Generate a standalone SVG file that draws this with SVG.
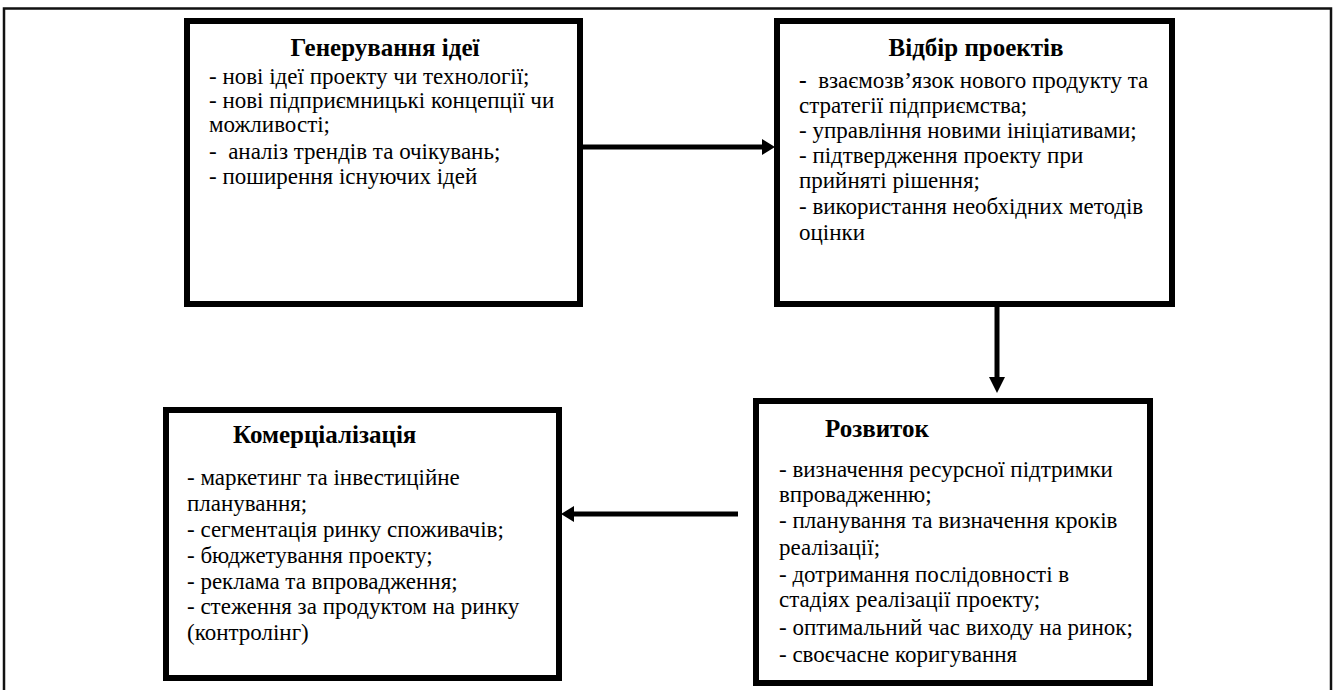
<svg xmlns="http://www.w3.org/2000/svg" width="1336" height="690" viewBox="0 0 1336 690">
<defs>
<style>
.frame{fill:none;stroke:#111;stroke-width:2.5}
.box{fill:#fff;stroke:#000;stroke-width:6}
.conn{stroke:#000;stroke-width:5;fill:none}
.head{fill:#000}
</style>
</defs>
<rect width="1336" height="690" fill="#fff"/>
<rect class="frame" x="4" y="8.5" width="1327" height="700"/>
<g id="node-generation">
<rect class="box" x="187" y="21" width="393" height="283"/>
<text x="385" y="56" text-anchor="middle" font-family="Liberation Serif" font-size="25" font-weight="bold">Генерування ідеї</text>
<text x="209" y="84" font-family="Liberation Serif" font-size="23">- нові ідеї проекту чи технології;</text>
<text x="209" y="108" font-family="Liberation Serif" font-size="23">- нові підприємницькі концепції чи</text>
<text x="209" y="132" font-family="Liberation Serif" font-size="23">можливості;</text>
<text x="209" y="159" font-family="Liberation Serif" font-size="23">-&#160; аналіз трендів та очікувань;</text>
<text x="209" y="184" font-family="Liberation Serif" font-size="23">- поширення існуючих ідей</text>
</g>
<g id="node-selection">
<rect class="box" x="777" y="21" width="395" height="283"/>
<text x="976" y="56" text-anchor="middle" font-family="Liberation Serif" font-size="25" font-weight="bold">Відбір проектів</text>
<text x="799" y="88" font-family="Liberation Serif" font-size="23"><tspan font-weight="bold">-</tspan>&#160; взаємозв’язок нового продукту та</text>
<text x="799" y="113" font-family="Liberation Serif" font-size="23">стратегії підприємства;</text>
<text x="799" y="138" font-family="Liberation Serif" font-size="23">- управління новими ініціативами;</text>
<text x="799" y="163" font-family="Liberation Serif" font-size="23">- підтвердження проекту при</text>
<text x="799" y="188" font-family="Liberation Serif" font-size="23">прийняті рішення;</text>
<text x="799" y="214" font-family="Liberation Serif" font-size="23">- використання необхідних методів</text>
<text x="799" y="240" font-family="Liberation Serif" font-size="23">оцінки</text>
</g>
<g id="node-development">
<rect class="box" x="756" y="401" width="394" height="282"/>
<text x="825" y="437" font-family="Liberation Serif" font-size="25" font-weight="bold">Розвиток</text>
<text x="779" y="477" font-family="Liberation Serif" font-size="23">- визначення ресурсної підтримки</text>
<text x="779" y="502" font-family="Liberation Serif" font-size="23">впровадженню;</text>
<text x="779" y="528" font-family="Liberation Serif" font-size="23">- планування та визначення кроків</text>
<text x="779" y="555" font-family="Liberation Serif" font-size="23">реалізації;</text>
<text x="779" y="582" font-family="Liberation Serif" font-size="23">- дотримання послідовності в</text>
<text x="779" y="607" font-family="Liberation Serif" font-size="23">стадіях реалізації проекту;</text>
<text x="779" y="635" font-family="Liberation Serif" font-size="23">- оптимальний час виходу на ринок;</text>
<text x="779" y="662" font-family="Liberation Serif" font-size="23">- своєчасне коригування</text>
</g>
<g id="node-commercialization">
<rect class="box" x="166" y="410" width="393" height="268"/>
<text x="233" y="443" font-family="Liberation Serif" font-size="25" font-weight="bold">Комерціалізація</text>
<text x="187" y="485" font-family="Liberation Serif" font-size="23">- маркетинг та інвестиційне</text>
<text x="187" y="511" font-family="Liberation Serif" font-size="23">планування;</text>
<text x="187" y="537" font-family="Liberation Serif" font-size="23">- сегментація ринку споживачів;</text>
<text x="187" y="563" font-family="Liberation Serif" font-size="23">- бюджетування проекту;</text>
<text x="187" y="589" font-family="Liberation Serif" font-size="23">- реклама та впровадження;</text>
<text x="187" y="614" font-family="Liberation Serif" font-size="23">- стеження за продуктом на ринку</text>
<text x="187" y="640" font-family="Liberation Serif" font-size="23">(контролінг)</text>
</g>
<g id="connectors">
<line class="conn" x1="583" y1="147" x2="763" y2="147"/>
<polygon class="head" points="762,139 775,147 762,155"/>
<line class="conn" x1="997" y1="307" x2="997" y2="379"/>
<polygon class="head" points="989,377 997,393 1005,377"/>
<line class="conn" x1="738" y1="514" x2="572" y2="514"/>
<polygon class="head" points="574,506 561,514 574,522"/>
</g>
</svg>
